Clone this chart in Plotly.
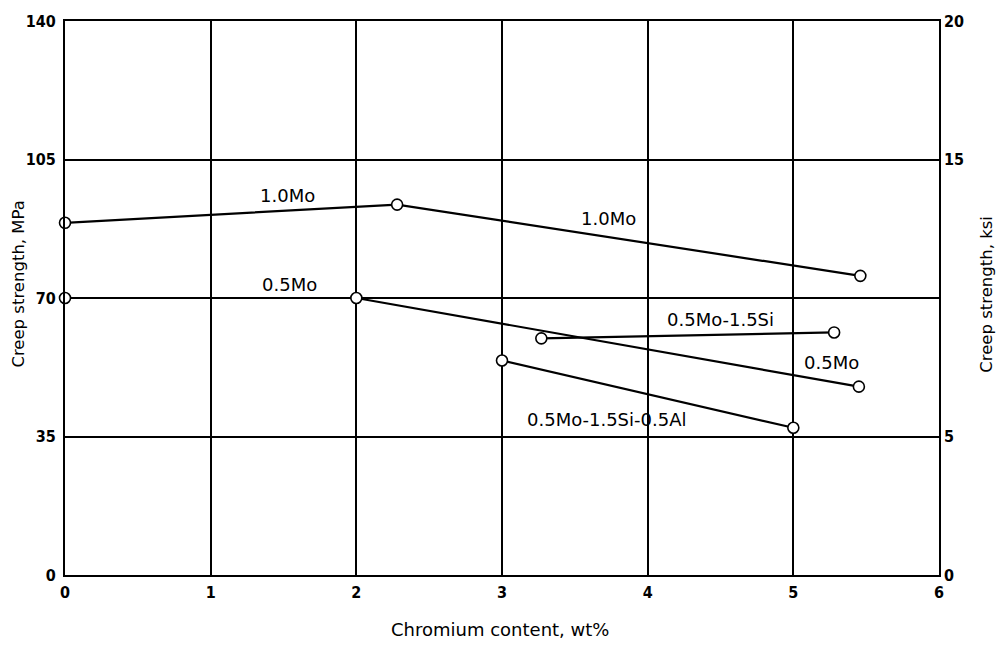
import plotly.graph_objects as go

# Data (Chromium content wt%, creep strength MPa)
mo10_x = [0, 2.28, 5.46]
mo10_y = [89, 93.6, 75.6]
mo05_x = [0, 2, 5.45]
mo05_y = [70, 70, 47.6]
mosi_x = [3.27, 5.28]
mosi_y = [59.8, 61.3]
mosial_x = [3.0, 5.0]
mosial_y = [54.2, 37.2]

x_ticks = [0, 1, 2, 3, 4, 5, 6]
y_ticks = [0, 35, 70, 105, 140]
ksi_ticks = [0, 5, 15, 20]

labels = [
    ("1.0Mo", 1.53, 96.0),
    ("1.0Mo", 3.73, 90.0),
    ("0.5Mo", 1.54, 73.5),
    ("0.5Mo-1.5Si", 4.5, 64.6),
    ("0.5Mo", 5.26, 53.7),
    ("0.5Mo-1.5Si-0.5Al", 3.72, 39.4),
]

fig = go.Figure()
series = [(mo10_x, mo10_y), (mo05_x, mo05_y), (mosi_x, mosi_y), (mosial_x, mosial_y)]
for xs, ys in series:
    fig.add_trace(go.Scatter(
        x=xs, y=ys, mode="lines+markers",
        line=dict(color="black", width=2.2),
        marker=dict(symbol="circle", size=11, color="white",
                    line=dict(color="black", width=1.6)),
        showlegend=False, cliponaxis=False))

# invisible trace for the secondary (ksi) axis
fig.add_trace(go.Scatter(x=[0], y=[0], yaxis="y2", mode="markers",
                         marker=dict(opacity=0), showlegend=False, hoverinfo="skip"))

lab_font = dict(family="DejaVu Sans", size=18, color="black")
for text, x, y in labels:
    fig.add_annotation(x=x, y=y, text=text, showarrow=False, font=lab_font)

title_font = dict(family="DejaVu Sans", size=16.5, color="black")
fig.add_annotation(xref="paper", yref="paper", x=0.498, y=-0.098, text="Chromium content, wt%",
                   showarrow=False, xanchor="center", yanchor="middle",
                   font=dict(family="DejaVu Sans", size=18, color="black"))
fig.add_annotation(xref="paper", yref="paper", x=-0.0526, y=0.526, text="Creep strength, MPa",
                   showarrow=False, xanchor="center", yanchor="middle", textangle=-90, font=title_font)
fig.add_annotation(xref="paper", yref="paper", x=1.055, y=0.506, text="Creep strength, ksi",
                   showarrow=False, xanchor="center", yanchor="middle", textangle=-90, font=title_font)

tickfont = dict(family="Liberation Sans Narrow, DejaVu Sans Condensed, Arial Narrow", size=16,
                color="black", weight="bold")
fig.update_layout(
    width=1000, height=645,
    margin=dict(l=65, r=61, t=16, b=70),
    paper_bgcolor="white", plot_bgcolor="white",
    xaxis=dict(range=[0, 6], tickvals=x_ticks, showgrid=True, gridcolor="black", gridwidth=1.8,
               showline=True, linecolor="black", linewidth=2.2, mirror=True, zeroline=False,
               ticks="", tickfont=tickfont, ticklabelstandoff=2),
    yaxis=dict(range=[0, 140], tickvals=y_ticks, showgrid=True, gridcolor="black", gridwidth=1.8,
               showline=True, linecolor="black", linewidth=2.2, mirror=True, zeroline=False,
               ticks="", tickfont=tickfont, ticklabelstandoff=4),
    yaxis2=dict(range=[0, 20], tickvals=ksi_ticks, overlaying="y", side="right",
                showgrid=False, zeroline=False, ticks="", tickfont=tickfont, ticklabelstandoff=4),
)

fig.write_html("out.html")
